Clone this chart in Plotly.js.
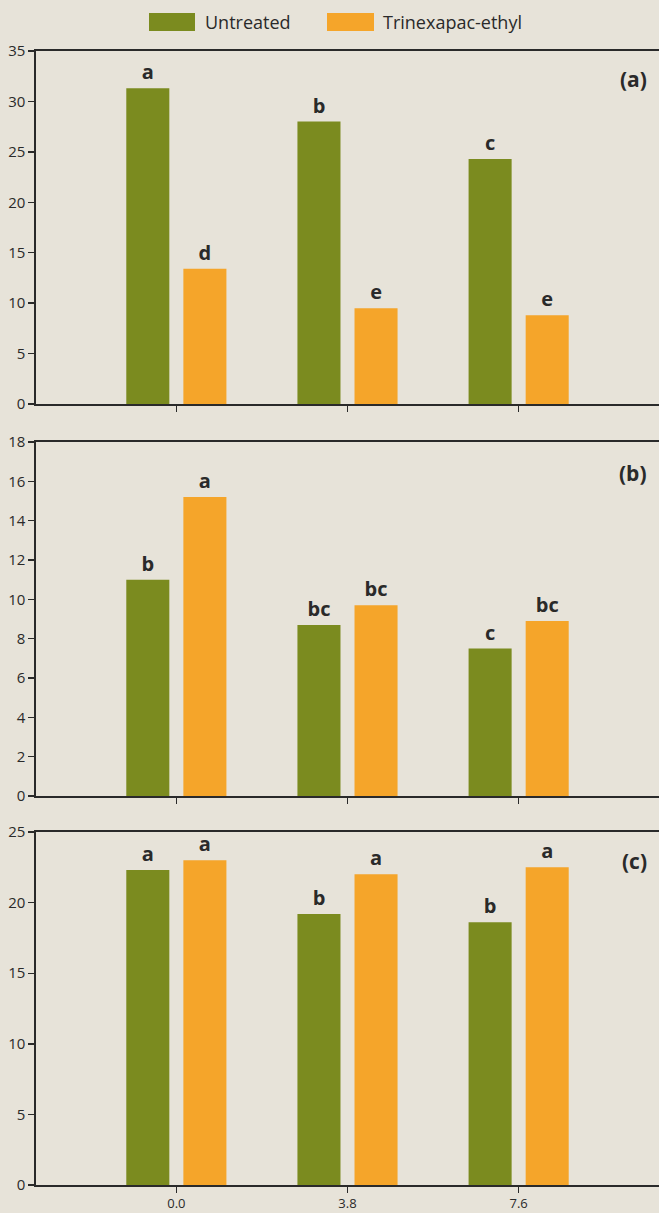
<!DOCTYPE html>
<html>
<head>
<meta charset="utf-8">
<script src="https://cdn.plot.ly/plotly-3.0.1.min.js"></script>
<style>html,body{margin:0;padding:0;background:#e7e3d9;}</style>
</head>
<body>
<div id="chart" style="width:659px;height:1213px;"></div>
<script>
// ---- Data ----
const categories = ["0.0", "3.8", "7.6"];
const seriesNames = ["Untreated", "Trinexapac-ethyl"];

const untreatedA = [31.3, 28.0, 24.3];
const trinexA    = [13.4, 9.5, 8.8];
const lettersUntreatedA = ["a", "b", "c"];
const lettersTrinexA    = ["d", "e", "e"];

const untreatedB = [11.0, 8.7, 7.5];
const trinexB    = [15.2, 9.7, 8.9];
const lettersUntreatedB = ["b", "bc", "c"];
const lettersTrinexB    = ["a", "bc", "bc"];

const untreatedC = [22.3, 19.2, 18.6];
const trinexC    = [23.0, 22.0, 22.5];
const lettersUntreatedC = ["a", "b", "b"];
const lettersTrinexC    = ["a", "a", "a"];

const panelLabels = ["(a)", "(b)", "(c)"];
const yTickA = [0, 5, 10, 15, 20, 25, 30, 35];
const yTickB = [0, 2, 4, 6, 8, 10, 12, 14, 16, 18];
const yTickC = [0, 5, 10, 15, 20, 25];

// ---- Styles ----
const GREEN = "#7b8b1f";
const ORANGE = "#f5a52a";
const INK = "#2a2a2a";
const BG = "#e7e3d9";
const FONT = "Open Sans, DejaVu Sans, sans-serif";

function bar(x, y, letters, color, name, xa, ya) {
  return {
    type: "bar", x: x, y: y, name: name, showlegend: false,
    xaxis: xa, yaxis: ya,
    marker: {color: color, line: {width: 0}},
    text: letters, textposition: "outside", cliponaxis: false,
    textfont: {family: FONT, size: 20, color: INK, weight: "bold"},
    texttemplate: "<b>%{text}</b>",
    hoverinfo: "x+y"
  };
}

const traces = [
  bar(categories, untreatedA, lettersUntreatedA, GREEN, seriesNames[0], "x", "y"),
  bar(categories, trinexA, lettersTrinexA, ORANGE, seriesNames[1], "x", "y"),
  bar(categories, untreatedB, lettersUntreatedB, GREEN, seriesNames[0], "x2", "y2"),
  bar(categories, trinexB, lettersTrinexB, ORANGE, seriesNames[1], "x2", "y2"),
  bar(categories, untreatedC, lettersUntreatedC, GREEN, seriesNames[0], "x3", "y3"),
  bar(categories, trinexC, lettersTrinexC, ORANGE, seriesNames[1], "x3", "y3")
];

const H = 1213;
function dom(topPx, botPx) { return [1 - botPx / H, 1 - topPx / H]; }

function xax(anchor, labels) {
  return {
    anchor: anchor, type: "category", range: [-0.82, 2.82],
    showline: true, mirror: true, linecolor: INK, linewidth: 1.6,
    ticks: "outside", ticklen: 6, tickwidth: 1.4, tickcolor: INK,
    showticklabels: labels, showgrid: false, zeroline: false,
    tickfont: {family: FONT, size: 13, color: INK}, fixedrange: true
  };
}
function yax(anchor, domain, range, tickvals) {
  return {
    anchor: anchor, domain: domain, range: range, tickvals: tickvals,
    showline: true, linecolor: INK, linewidth: 1.6,
    ticks: "outside", ticklen: 6, tickwidth: 1.4, tickcolor: INK,
    showgrid: false, zeroline: false,
    tickfont: {family: FONT, size: 15, color: INK}, fixedrange: true
  };
}

const layout = {
  width: 659, height: 1213,
  paper_bgcolor: BG, plot_bgcolor: BG,
  margin: {l: 36, r: 0, t: 0, b: 0},
  barmode: "group", bargap: 0.333, bargroupgap: 0.246,
  showlegend: false,
  font: {family: FONT, color: INK},
  xaxis: xax("y", false),
  xaxis2: xax("y2", false),
  xaxis3: xax("y3", true),
  yaxis: yax("x", dom(51, 404), [0, 35], yTickA),
  yaxis2: yax("x2", dom(442, 796), [0, 18], yTickB),
  yaxis3: yax("x3", dom(832, 1185), [0, 25], yTickC),
  shapes: [
    {type: "rect", xref: "paper", yref: "paper", layer: "above",
     x0: (149 - 36) / 623, x1: (195 - 36) / 623, y0: 1 - 31 / H, y1: 1 - 13 / H,
     fillcolor: GREEN, line: {width: 0}},
    {type: "rect", xref: "paper", yref: "paper", layer: "above",
     x0: (327 - 36) / 623, x1: (374 - 36) / 623, y0: 1 - 31 / H, y1: 1 - 13 / H,
     fillcolor: ORANGE, line: {width: 0}}
  ],
  annotations: [
    {xref: "paper", yref: "paper", x: (203 - 36) / 623, y: 1 - 22 / H,
     xanchor: "left", yanchor: "middle", showarrow: false, text: seriesNames[0],
     font: {family: FONT, size: 18, color: INK}},
    {xref: "paper", yref: "paper", x: (381 - 36) / 623, y: 1 - 22 / H,
     xanchor: "left", yanchor: "middle", showarrow: false, text: seriesNames[1],
     font: {family: FONT, size: 18, color: INK}},
    {xref: "paper", yref: "paper", x: (649 - 36) / 623, y: 1 - 79 / H,
     xanchor: "right", yanchor: "middle", showarrow: false, text: "<b>" + panelLabels[0] + "</b>",
     font: {family: FONT, size: 21, color: INK}},
    {xref: "paper", yref: "paper", x: (649 - 36) / 623, y: 1 - 473 / H,
     xanchor: "right", yanchor: "middle", showarrow: false, text: "<b>" + panelLabels[1] + "</b>",
     font: {family: FONT, size: 21, color: INK}},
    {xref: "paper", yref: "paper", x: (649 - 36) / 623, y: 1 - 861 / H,
     xanchor: "right", yanchor: "middle", showarrow: false, text: "<b>" + panelLabels[2] + "</b>",
     font: {family: FONT, size: 21, color: INK}}
  ]
};

Plotly.newPlot("chart", traces, layout, {displayModeBar: false, staticPlot: true});
</script>
</body>
</html>
